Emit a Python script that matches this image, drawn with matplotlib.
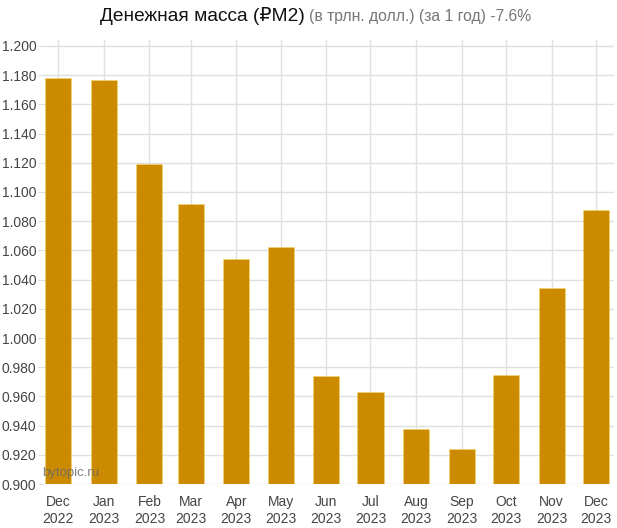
import datetime as dt
import matplotlib
matplotlib.use('Agg')
import matplotlib.pyplot as plt
import matplotlib.dates as mdates

plt.rcParams['font.family'] = ['Liberation Sans', 'DejaVu Sans']

#Datos:
meses = ['Dec\n2022', 'Jan\n2023', 'Feb\n2023', 'Mar\n2023', 'Apr\n2023', 'May\n2023', 'Jun\n2023',
         'Jul\n2023', 'Aug\n2023', 'Sep\n2023', 'Oct\n2023', 'Nov\n2023', 'Dec\n2023']
fechas = [dt.date(2022, 12, 1)] + [dt.date(2023, m, 1) for m in range(1, 13)]
valores = [1.178, 1.177, 1.119, 1.092, 1.054, 1.062, 0.974, 0.963, 0.938, 0.924, 0.975, 1.034, 1.088]
y_ticks = [0.900 + 0.02*i for i in range(16)]

W, H = 617, 528
fig = plt.figure(figsize=(W/100, H/100), dpi=100)
#posicion del area de dibujo en pixeles
left, right, bottom, top = 44, 614, 484, 40
ax = fig.add_axes([left/W, 1-bottom/H, (right-left)/W, (bottom-top)/H])

x = mdates.date2num(fechas)
ax.bar(x, valores, width=17.7, bottom=0, color='#cc8a00', edgecolor='#f5d76e', linewidth=0.4, zorder=3)

ax.set_ylim(0.9, 1.2 + 6/1460)
ax.set_xlim(x[0] - 14/1.47, x[-1] + 18/1.47)
ax.set_yticks(y_ticks)
ax.set_yticklabels(['{:.3f}'.format(v) for v in y_ticks])
ax.set_xticks(x)
ax.set_xticklabels(meses, linespacing=1.3)

ax.grid(True, color='#e0e0e0', linewidth=1, zorder=0)
for s in ax.spines.values():
    s.set_visible(False)
ax.tick_params(axis='y', length=4.5, color='#e0e0e0', labelsize=10, labelcolor='#444444', pad=1)
ax.tick_params(axis='x', length=0, labelsize=10, labelcolor='#444444', pad=8)

#Titulo en dos partes:
fig.text(305/W, 1-16/H, 'Денежная масса (₽M2)', ha='right', va='center', fontsize=13.8, color='#111111')
fig.text(309/W, 1-16/H, '(в трлн. долл.) (за 1 год) -7.6%', ha='left', va='center', fontsize=11.3, color='#777777')

#Marca de agua:
fig.text(42/W, 1-473/H, 'bytopic.ru', ha='left', va='center', fontsize=9.5, color='#6a6a6a', alpha=0.85, zorder=5)

fig.savefig('out.png', dpi=100)
